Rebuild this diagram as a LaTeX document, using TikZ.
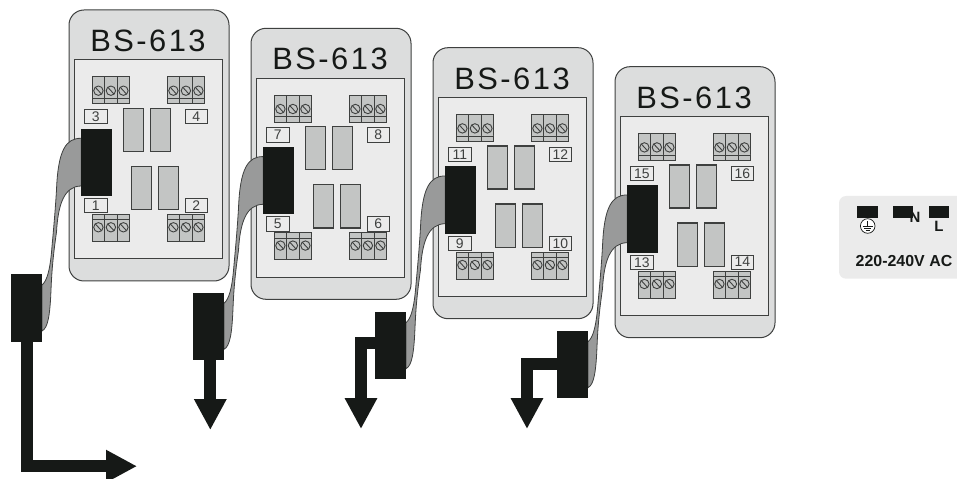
\documentclass[tikz,border=0pt]{standalone}
\usepackage{fontspec}
\setmainfont{Liberation Sans}
\usetikzlibrary{arrows.meta}
\definecolor{cardgrey}{HTML}{DCDDDD}
\definecolor{panelgrey}{HTML}{EBEBEB}
\definecolor{relaygrey}{HTML}{C3C5C4}
\definecolor{edgegrey}{HTML}{3E403F}
\definecolor{ribbongrey}{HTML}{999A9A}
\definecolor{inkblack}{HTML}{161917}
\tikzset{
  x=1bp,y=-1bp,
  cardbox/.style={draw=edgegrey,fill=cardgrey,line width=1bp,rounded corners=15bp},
  innerbox/.style={draw=edgegrey,fill=panelgrey,line width=1bp},
  relaybox/.style={draw=edgegrey,fill=relaygrey,line width=1.1bp},
  termbox/.style={draw=edgegrey,fill=relaygrey,line width=0.9bp},
  screwhead/.style={draw=edgegrey,fill=relaygrey,line width=0.9bp},
  numbox/.style={draw=edgegrey,fill=panelgrey,line width=0.9bp,minimum width=22.6bp,minimum height=14.4bp,inner sep=0pt,text=edgegrey,font=\fontsize{14}{14}\selectfont},
  plugbox/.style={fill=inkblack,draw=none,minimum width=31bp,minimum height=67.5bp,inner sep=0pt},
  ribbonband/.style={draw=edgegrey,fill=ribbongrey,line width=0.8bp},
  cablearrow/.style={draw=inkblack,line width=12.3bp,-{Triangle[length=31bp,width=30.5bp]}},
  titletext/.style={text=inkblack,inner sep=0pt},
  mainsblock/.style={fill=inkblack,draw=none},
  mainstext/.style={text=inkblack,inner sep=0pt,font=\fontsize{15}{15}\selectfont\bfseries}
}
\newcommand{\termblock}[4]{%
  \foreach \k in {0,1,2}{
    \draw[termbox] ({#1+\k*12.5},#2) rectangle ({#1+(\k+1)*12.5},{#2+27});
    \draw[termbox] ({#1+\k*12.5},{#2+#3}) -- ({#1+(\k+1)*12.5},{#2+#3});
    \draw[screwhead] ({#1+\k*12.5+6},{#2+#4}) circle (4.7bp);
    \draw[termbox] ({#1+\k*12.5+2.8},{#2+#4-3.5}) -- ({#1+\k*12.5+9.2},{#2+#4+3.5});
  }}
\newcommand{\boardunit}[9]{%
\begin{scope}[shift={(#2,#3)}]
  \draw[cardbox] (69,10) rectangle (229,281);
  \draw[innerbox] (74,60) rectangle (222,259);
  \node[titletext] (title#1) at (148,{41+#9}) {\fontsize{31}{31}\selectfont\addfontfeature{LetterSpace=#4}BS-613};
  \termblock{92.4}{76.7}{21.6}{14}
  \termblock{167.4}{76.7}{21.6}{14}
  \termblock{92.4}{214.3}{5.4}{13}
  \termblock{167.4}{214.3}{5.4}{13}
  \node[numbox] (n#1a) at (95.8,116.7) {#5};
  \node[numbox] (n#1b) at (196.3,116.7) {#6};
  \node[numbox] (n#1c) at (95.8,205.5) {#7};
  \node[numbox] (n#1d) at (196.3,205.5) {#8};
  \draw[relaybox] (123.3,108.3) rectangle (143.5,151.3);
  \draw[relaybox] (150.3,108.3) rectangle (170.5,151.3);
  \draw[relaybox] (131.3,166.3) rectangle (151.7,209.7);
  \draw[relaybox] (158.3,166.3) rectangle (178.7,209.7);
  \draw[ribbonband] (81.3,138.3) .. controls (66,138) and (58,150) .. (56.5,190)
     .. controls (55,215) and (53,235) .. (51.7,250)
     .. controls (50,270) and (47,281) .. (42,285) -- (42,331)
     .. controls (48,328) and (50,315) .. (51,290)
     .. controls (52,265) and (54,250) .. (56.5,232)
     .. controls (58,205) and (64,186) .. (81.3,186) -- cycle;
  \node[plugbox] (up#1) at (96.8,162.3) {};
  \node[plugbox] (lo#1) at (26.2,308) {};
\end{scope}}
\begin{document}
\begin{tikzpicture}
\useasboundingbox (0,0) rectangle (957,479);
\boardunit{A}{0}{0}{8}{3}{4}{1}{2}{0}
\boardunit{B}{182}{18.3}{8}{7}{8}{5}{6}{0}
\boardunit{C}{364}{37.7}{8}{11}{12}{9}{10}{0}
\boardunit{D}{546}{56.7}{8}{15}{16}{13}{14}{0}
\coordinate (endA) at (137,466.2);
\coordinate (endB) at (210.3,430);
\coordinate (endC) at (361,429);
\coordinate (endD) at (527,429);
\draw[cablearrow] (26.8,342) |- (endA);
\draw[cablearrow] (loB.south -| endB) -- (endB);
\draw[cablearrow] (374.7,343.2) -| (endC);
\draw[cablearrow] (556.7,363.7) -| (endD);
\fill[panelgrey,rounded corners=7bp] (839,196) rectangle (965,278.7);
\node[mainsblock,minimum width=20.4bp,minimum height=12.3bp,inner sep=0pt] (pe) at (867.5,211.8) {};
\node[mainsblock,minimum width=20bp,minimum height=12.3bp,inner sep=0pt] (neutral) at (903.3,211.8) {};
\node[mainsblock,minimum width=20bp,minimum height=12.3bp,inner sep=0pt] (live) at (939,211.8) {};
\draw[inkblack,line width=0.7bp,fill=white] (867.7,226) circle (7.3bp);
\draw[inkblack,line width=0.8bp] (867.7,221.5) -- (867.7,226) (862.7,226) -- (872.7,226) (864,228.4) -- (871.4,228.4) (865.7,230.7) -- (869.7,230.7);
\node[mainstext] (ntext) at (915,217) {N};
\node[mainstext] (ltext) at (939,226) {L};
\node[mainstext,font=\fontsize{16}{16}\selectfont\bfseries] (acv) at (904,261.5) {220-240V AC};
\end{tikzpicture}
\end{document}
